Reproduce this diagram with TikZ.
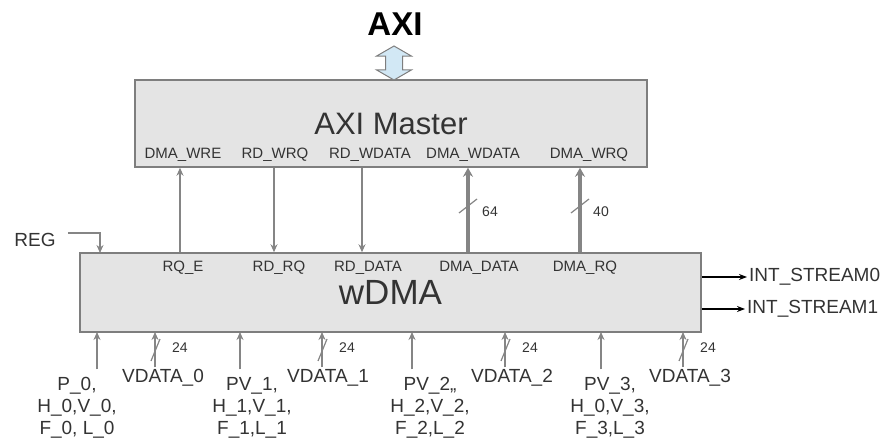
\documentclass[tikz,border=0pt]{standalone}
\usepackage{fontspec}
\setmainfont{Liberation Sans}
\usetikzlibrary{arrows.meta,shapes.arrows}

\definecolor{boxfill}{HTML}{E4E4E4}
\definecolor{boxline}{HTML}{7E7E7E}
\definecolor{wire}{HTML}{858585}
\definecolor{txt}{HTML}{333333}
\definecolor{axiblue}{HTML}{D2E8F5}

\tikzset{
  blk/.style={draw=boxline,fill=boxfill,line width=1.5pt,inner sep=0pt},
  sig/.style={draw=wire,line width=1.5pt,-{Stealth[length=8pt,width=7pt]}},
  bus/.style={sig,line width=4pt,-{Stealth[length=9pt,width=10pt]}},
  tick/.style={draw=wire,line width=1.2pt},
  port/.style={font=\fontsize{15}{15}\selectfont,text=txt,inner sep=1pt},
  lbl/.style={font=\fontsize{19}{22}\selectfont,text=txt,align=center,inner sep=2pt},
  wnum/.style={font=\fontsize{14}{14}\selectfont,text=txt,inner sep=1pt},
  outsig/.style={draw=black,line width=1.5pt,-{Stealth[length=8pt,width=6pt]}}
}

\begin{document}
\begin{tikzpicture}[x=1pt,y=-1pt]
\useasboundingbox (0,0) rectangle (887,441);
% ---------- blocks ----------
\node[blk,minimum width=512pt,minimum height=87pt,
      font=\fontsize{31}{31}\selectfont,text=txt] (master) at (391,123.5) {AXI Master};
\node[blk,minimum width=621pt,minimum height=79pt,
      font=\fontsize{35}{35}\selectfont,text=txt] (wdma) at (390.5,292.5) {wDMA};
% ---------- AXI bus on top ----------
\node[font=\bfseries\fontsize{33}{33}\selectfont] (axi) at (395,24) {AXI};
\node[double arrow,draw=boxline,fill=axiblue,line width=1pt,rotate=90,
      minimum height=34pt,inner sep=0pt,
      double arrow head extend=9pt,double arrow tip angle=120] (axiarr) at (394,63) {\rule{0pt}{16pt}};
% ---------- port names ----------
\node[port] (pwre)   at (183,155) {DMA\_WRE};
\node[port] (pwrq)   at (275,155) {RD\_WRQ};
\node[port] (pwdata) at (370,155) {RD\_WDATA};
\node[port] (pdwd)   at (473,155) {DMA\_WDATA};
\node[port] (pdwrq)  at (589,155) {DMA\_WRQ};
\node[port] (prqe)   at (183,268) {RQ\_E};
\node[port] (prdrq)  at (279,268) {RD\_RQ};
\node[port] (prdd)   at (368,268) {RD\_DATA};
\node[port] (pdd)    at (479,268) {DMA\_DATA};
\node[port] (pdrq)   at (585,268) {DMA\_RQ};
% wire columns between the blocks
\coordinate (c1) at (180,0);
\coordinate (c2) at (274,0);
\coordinate (c3) at (362,0);
\coordinate (c4) at (468,0);
\coordinate (c5) at (580,0);
\draw[sig] (c1 |- wdma.north) -- (c1 |- master.south);
\draw[sig] (c2 |- master.south) -- (c2 |- wdma.north);
\draw[sig] (c3 |- master.south) -- (c3 |- wdma.north);
\draw[bus] (c4 |- wdma.north) -- (c4 |- master.south);
\draw[bus] (c5 |- wdma.north) -- (c5 |- master.south);
\draw[tick] ([shift={(-9,5)}]c4 |- 0,208) -- ([shift={(9,-9)}]c4 |- 0,208);
\draw[tick] ([shift={(-9,5)}]c5 |- 0,208) -- ([shift={(9,-9)}]c5 |- 0,208);
\node[wnum] (w64) at (490,212) {64};
\node[wnum] (w40) at (601,212) {40};
% ---------- REG ----------
\node[lbl] (reg) at (35,240) {REG};
\coordinate (regin) at (100,253);
\draw[sig,line width=2.5pt] ([shift={(10,-7)}]reg.east) -| (regin);
% ---------- outputs ----------
\node[lbl,anchor=west] (s0) at (747,277) {INT\_STREAM0};
\node[lbl,anchor=west] (s1) at (745,309) {INT\_STREAM1};
\draw[outsig] (s0.west -| wdma.east) -- (s0.west);
\draw[outsig] (s1.west -| wdma.east) -- (s1.west);
% ---------- inputs: pixel-valid groups ----------
\node[lbl] (pv0) at (77,408)  {P\_0,\\H\_0,V\_0,\\F\_0, L\_0};
\node[lbl] (pv1) at (252,408) {PV\_1,\\H\_1,V\_1,\\F\_1,L\_1};
\node[lbl] (pv2) at (430,408) {PV\_2,,\\H\_2,V\_2,\\F\_2,L\_2};
\node[lbl] (pv3) at (610,408) {PV\_3,\\H\_0,V\_3,\\F\_3,L\_3};
\foreach \n/\x in {0/97, 1/240, 2/412, 3/601}{
  \coordinate (b\n) at (\x,332);
  \draw[sig] ([yshift=6pt]b\n |- pv\n.north) -- (b\n);}
% ---------- inputs: 24-bit video data ----------
\foreach \n/\x/\lx in {0/155/163, 1/322/328, 2/505/512, 3/683/690}{
  \node[lbl] (vd\n) at (\lx,378) {VDATA\_\n};
  \coordinate (v\n) at (\x,332);
  \draw[sig] (v\n |- vd\n.north) -- (v\n);
  \draw[tick] ([shift={(-4,29)}]v\n) -- ([shift={(5,7)}]v\n);
  \node[wnum] (vw\n) at (\x+25,348) {24};}
\end{tikzpicture}
\end{document}
